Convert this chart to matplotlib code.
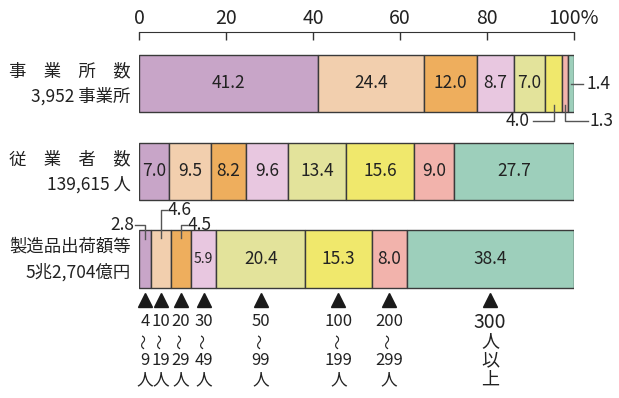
import matplotlib
matplotlib.use("Agg")
import matplotlib.pyplot as plt
import numpy as np

plt.rcParams["font.family"] = ["Noto Sans CJK JP", "DejaVu Sans"]

# ── データ ──────────────────────────────
size_top = ["4", "10", "20", "30", "50", "100", "200", "300"]
size_bottom = ["9", "19", "29", "49", "99", "199", "299", ""]
offices = [41.2, 24.4, 12.0, 8.7, 7.0, 4.0, 1.3, 1.4]
workers = [7.0, 9.5, 8.2, 9.6, 13.4, 15.6, 9.0, 27.7]
shipments = [2.8, 4.6, 4.5, 5.9, 20.4, 15.3, 8.0, 38.4]
row_titles = ["事　業　所　数", "従　業　者　数", "製造品出荷額等"]
row_totals = ["3,952 事業所", "139,615 人", "5兆2,704億円"]
ticks = [0, 20, 40, 60, 80, 100]
tick_labels = ["0", "20", "40", "60", "80", "100%"]

COLORS = ["#c8a5c8", "#f2cfae", "#eeae5d", "#e8c7e0",
          "#e3e39b", "#f0e86c", "#f2b3ac", "#9dcfbb"]
EDGE = "#3a3a3a"
TXT = "#222222"

fig = plt.figure(figsize=(6.19, 3.98), dpi=100)
ax = fig.add_axes([139 / 619, 0, 435 / 619, 1])
ax.set_xlim(0, 100)
ax.set_ylim(398, 0)   # y は画像ピクセル座標

rows = [(offices, 83.5, 57), (workers, 171.5, 57), (shipments, 259, 58)]
inside = [[True] * 5 + [False] * 3, [True] * 8, [False] * 3 + [True] * 5]

for (vals, yc, h), show in zip(rows, inside):
    left = np.concatenate([[0], np.cumsum(vals)[:-1]])
    ax.barh(yc, vals, left=left, height=h, color=COLORS,
            edgecolor=EDGE, linewidth=1.0)
    for l, v, s in zip(left, vals, show):
        if s:
            fs = 10 if (vals is shipments and v < 7) else 12.5
            ax.text(l + v / 2, yc, f"{v:.1f}", ha="center", va="center",
                    fontsize=fs, color=TXT)

# 行ラベル
for (vals, yc, h), t1, t2 in zip(rows, row_titles, row_totals):
    ax.text(-1.9, yc - 12, t1, ha="right", va="center", fontsize=12.5, color=TXT)
    ax.text(-1.9, yc + 13, t2, ha="right", va="center", fontsize=12.5, color=TXT)

# 引き出し線
lk = dict(color="#555555", lw=1.0, clip_on=False)
c1 = np.cumsum(offices)
x_yel = c1[4] + offices[5] / 2
x_sal = c1[5] + offices[6] / 2
x_teal = c1[6] + offices[7] / 2
ax.plot([x_teal, 102.1], [84, 84], **lk)
ax.text(102.8, 84, f"{offices[7]:.1f}", ha="left", va="center", fontsize=12.5, color=TXT)
ax.plot([x_yel, x_yel, 90.6], [105, 121, 121], **lk)
ax.text(89.9, 121, f"{offices[5]:.1f}", ha="right", va="center", fontsize=12.5, color=TXT)
ax.plot([x_sal, x_sal, 103.2], [105, 121, 121], **lk)
ax.text(103.6, 121, f"{offices[6]:.1f}", ha="left", va="center", fontsize=12.5, color=TXT)

c3 = np.cumsum(shipments)
centers3 = c3 - np.array(shipments) / 2
ax.plot([centers3[0], centers3[0], -0.9], [239, 225, 225], **lk)
ax.text(-1.1, 225, f"{shipments[0]:.1f}", ha="right", va="center", fontsize=12.5, color=TXT)
ax.plot([centers3[1], centers3[1], 6.4], [238, 210, 210], **lk)
ax.text(6.6, 210, f"{shipments[1]:.1f}", ha="left", va="center", fontsize=12.5, color=TXT)
ax.plot([centers3[2], centers3[2], 11.0], [238, 225, 225], **lk)
ax.text(11.2, 225, f"{shipments[2]:.1f}", ha="left", va="center", fontsize=12.5, color=TXT)

# 規模区分の矢印と表示
ax.plot(centers3, [300] * len(centers3), linestyle="none", marker="^",
        markersize=10, color="#1a1a1a", clip_on=False)
for i, (x, top, bot) in enumerate(zip(centers3, size_top, size_bottom)):
    if i < len(size_top) - 1:
        lines = [top, "～", bot, "人"]
        sizes = [12, 11, 12, 12]
    else:
        lines = [top, "人", "以", "上"]
        sizes = [14, 13, 13, 13]
    for j, (s, fs) in enumerate(zip(lines, sizes)):
        ax.text(x, 322 + j * 19.3, s, ha="center", va="center",
                fontsize=fs, color=TXT, rotation=90 if s == "～" else 0)

# 上部目盛
for side in ["left", "right", "bottom"]:
    ax.spines[side].set_visible(False)
ax.spines["top"].set_position(("data", 32))
ax.spines["top"].set_color("#333333")
ax.xaxis.tick_top()
ax.set_xticks(ticks)
ax.set_xticklabels(tick_labels)
ax.tick_params(axis="x", direction="in", length=6, width=1, color="#333333",
               labelsize=14, pad=2, labelcolor=TXT)
ax.set_yticks([])

fig.savefig("out.png", dpi=100)
